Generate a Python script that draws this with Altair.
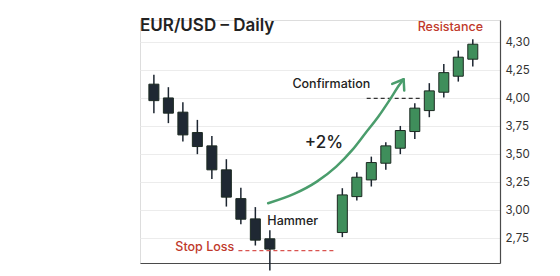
import altair as alt
import pandas as pd

# ---- data ----
bear_days = [0, 1, 2, 3, 4, 5, 6, 7, 8]
bear_open = [4.127, 4.004, 3.877, 3.695, 3.576, 3.362, 3.105, 2.924, 2.746]
bear_close = [3.980, 3.868, 3.674, 3.570, 3.362, 3.118, 2.921, 2.734, 2.654]
bear_high = [4.210, 4.100, 3.966, 3.808, 3.665, 3.457, 3.201, 3.029, 2.823]
bear_low = [3.868, 3.779, 3.614, 3.502, 3.281, 3.034, 2.877, 2.686, 2.462]

bull_days = [13, 14, 15, 16, 17, 18, 19, 20, 21, 22]
bull_open = [2.802, 3.123, 3.272, 3.421, 3.555, 3.704, 3.891, 4.055, 4.198, 4.350]
bull_close = [3.138, 3.296, 3.427, 3.576, 3.713, 3.913, 4.067, 4.230, 4.368, 4.484]
bull_high = [3.198, 3.341, 3.480, 3.609, 3.754, 3.957, 4.136, 4.308, 4.427, 4.529]
bull_low = [2.761, 3.088, 3.213, 3.362, 3.502, 3.638, 3.832, 4.007, 4.150, 4.284]

tick_levels = [2.75, 3.00, 3.25, 3.50, 3.75, 4.00, 4.25, 4.50]
tick_labels = ["2,75", "3,00", "3,25", "3,50", "3,75", "4,00", "4,25", "4,30"]

curve_x = [7.88, 9.67, 11.24, 12.58, 13.69, 14.59, 15.49, 16.27, 16.94, 17.23]
curve_y = [3.064, 3.147, 3.257, 3.391, 3.540, 3.689, 3.838, 3.987, 4.121, 4.171]
head_x = [16.44, 17.23, 17.27]
head_y = [4.129, 4.171, 4.070]

ann_text = ["Resistance", "Confirmation", "+2%", "Hammer", "Stop Loss"]
ann_x = [20.45, 12.24, 11.73, 9.58, 3.51]
ann_y = [4.641, 4.127, 3.600, 2.906, 2.671]
ann_kind = ["red", "dark", "big", "dark", "red"]

confirm_level = 4.00
confirm_from, confirm_to = 14.68, 18.50
stop_level = 2.641
stop_from, stop_to = 5.83, 12.47

# ---- tables ----
candles = pd.DataFrame({
    "day": bear_days + bull_days,
    "open": bear_open + bull_open,
    "close": bear_close + bull_close,
    "high": bear_high + bull_high,
    "low": bear_low + bull_low,
    "dir": ["down"] * len(bear_days) + ["up"] * len(bull_days),
})
curve = pd.DataFrame({"x": curve_x, "y": curve_y, "o": list(range(len(curve_x)))})
head = pd.DataFrame({"x": head_x, "y": head_y, "o": [0, 1, 2]})
ann = pd.DataFrame({"t": ann_text, "x": ann_x, "y": ann_y, "k": ann_kind})
confirm_df = pd.DataFrame({"x": [confirm_from], "x2": [confirm_to], "y": [confirm_level]})
stop_df = pd.DataFrame({"x": [stop_from], "x2": [stop_to], "y": [stop_level]})

label_expr = " : ".join(
    f"datum.value == {v} ? '{l}'" for v, l in zip(tick_levels, tick_labels)
) + " : ''"

FONT = "Inter"
xs = alt.Scale(domain=[-0.613, 23.532], nice=False, zero=False)
ys = alt.Scale(domain=[2.53, 4.70], nice=False, zero=False)

x_enc = alt.X("day:Q", scale=xs, axis=alt.Axis(labels=False, ticks=False, grid=False,
                                               title=None, domainColor="#4a4a4a", domainWidth=1.2))
y_axis = alt.Axis(orient="right", values=tick_levels, tickCount=len(tick_levels) + 4,
                  labelExpr=label_expr, ticks=False,
                  labelOverlap=False, labelPadding=5, labelFontSize=11.5, labelFont=FONT,
                  labelColor="#333333", grid=True, gridColor="#ececec",
                  domainColor="#4a4a4a", domainWidth=1.2, title=None)

color_scale = alt.Scale(domain=["down", "up"], range=["#1f2833", "#3f8e5b"])

wicks = alt.Chart(candles).mark_rule(color="#1c2530", strokeWidth=1.5).encode(
    x=x_enc,
    y=alt.Y("low:Q", scale=ys, axis=y_axis),
    y2="high:Q",
)
bodies = alt.Chart(candles).mark_bar(size=10, stroke="#1c2a22", strokeWidth=1).encode(
    x=alt.X("day:Q", scale=xs),
    y=alt.Y("open:Q", scale=ys),
    y2="close:Q",
    color=alt.Color("dir:N", scale=color_scale, legend=None),
)

confirm_line = alt.Chart(confirm_df).mark_rule(strokeDash=[4, 3], strokeWidth=1.2,
                                               color="#333333").encode(
    x=alt.X("x:Q", scale=xs), x2="x2:Q", y=alt.Y("y:Q", scale=ys))
stop_line = alt.Chart(stop_df).mark_rule(strokeDash=[4, 3], strokeWidth=1.2,
                                         color="#d9534f").encode(
    x=alt.X("x:Q", scale=xs), x2="x2:Q", y=alt.Y("y:Q", scale=ys))

arrow = alt.Chart(curve).mark_line(color="#4a9d6c", strokeWidth=2.5, interpolate="monotone",
                                   strokeCap="round").encode(
    x=alt.X("x:Q", scale=xs), y=alt.Y("y:Q", scale=ys), order="o:Q")
arrow_head = alt.Chart(head).mark_line(color="#4a9d6c", strokeWidth=2.5, strokeCap="round",
                                       strokeJoin="round").encode(
    x=alt.X("x:Q", scale=xs), y=alt.Y("y:Q", scale=ys), order="o:Q")

def texts(kind, color, size, weight):
    return alt.Chart(ann[ann.k == kind]).mark_text(
        font=FONT, fontSize=size, fontWeight=weight, color=color, baseline="middle", align="center"
    ).encode(x=alt.X("x:Q", scale=xs), y=alt.Y("y:Q", scale=ys), text="t:N")

chart = alt.layer(
    wicks, bodies, confirm_line, stop_line, arrow, arrow_head,
    texts("red", "#c0392b", 12.5, 500),
    texts("dark", "#222222", 12.5, 500),
    texts("big", "#222222", 17, 500),
).properties(
    width=360, height=243,
    title=alt.TitleParams("EUR/USD – Daily", anchor="start", frame="group", baseline="alphabetic",
                          offset=0, dy=28, font=FONT, fontSize=17, fontWeight=600, color="#222222"),
    autosize=alt.AutoSizeParams(type="none"),
    padding={"left": 140, "top": 20, "right": 60, "bottom": 13},
).configure_view(stroke=None).configure(background="white")

chart.save("out.html", embed_options={"renderer": "svg", "actions": False})
